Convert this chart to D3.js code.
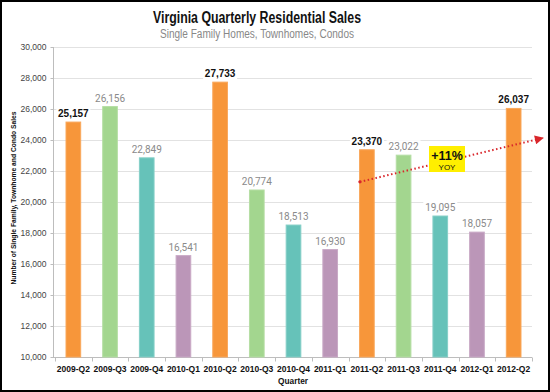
<!DOCTYPE html>
<html><head><meta charset="utf-8">
<script src="https://cdn.jsdelivr.net/npm/d3@7"></script>
<style>
html,body{margin:0;padding:0;background:#fff;}
svg{display:block;}
</style></head>
<body>
<svg id="c" width="550" height="392"></svg>
<script>
const quarters = ["2009-Q2","2009-Q3","2009-Q4","2010-Q1","2010-Q2","2010-Q3","2010-Q4","2011-Q1","2011-Q2","2011-Q3","2011-Q4","2012-Q1","2012-Q2"];
const sales = [25157,26156,22849,16541,27733,20774,18513,16930,23370,23022,19095,18057,26037];
const yTicks = [10000,12000,14000,16000,18000,20000,22000,24000,26000,28000,30000];
const quarterColors = {Q1:"#bb96b8", Q2:"#f7963a", Q3:"#a3d68f", Q4:"#66c2b9"};
const quarterStroke = {Q1:"#c9a9c6", Q2:"#f9a85c", Q3:"#b5dea4", Q4:"#85cfc7"};
const titleText = "Virginia Quarterly Residential Sales";
const subtitleText = "Single Family Homes, Townhomes, Condos";
const yTitle = "Number of Single Family, Townhome and Condo Sales";
const xTitle = "Quarter";
const trendLabel = "+11%";
const trendSub = "YOY";
const trendStartValue = 21300;

(function(){
const svg = d3.select("#c");
const W = 550, H = 392;
const pL = 55, pR = 532, pT = 47, pB = 357;
const sans = "'Liberation Sans', Arial, sans-serif";

svg.append("rect").attr("x",1).attr("y",1).attr("width",W-2).attr("height",H-2)
  .attr("fill","#fff").attr("stroke","#000").attr("stroke-width",2);

const x = d3.scaleBand().domain(quarters).range([pL, pR]).paddingInner(0.6).paddingOuter(0.3);
const y = d3.scaleLinear().domain([10000,30000]).range([pB, pT]);

// gridlines
svg.append("g").selectAll("line").data(yTicks.filter(t=>t>10000)).join("line")
  .attr("x1",53).attr("x2",pR).attr("y1",d=>Math.round(y(d))+0.5).attr("y2",d=>Math.round(y(d))+0.5)
  .attr("stroke","#e2e2e2").attr("stroke-width",1);

// y axis
const yAxis = d3.axisLeft(y).tickValues(yTicks).tickFormat(d3.format(",")).tickSize(3).tickPadding(4);
const ya = svg.append("g").attr("transform","translate(53.5,0)").call(yAxis);
ya.select(".domain").attr("stroke","#bdbdbd").attr("d",`M0,${pT}V${pB+0.5}`);
ya.selectAll(".tick line").attr("stroke","#bdbdbd");
ya.selectAll("text").attr("font-family",sans).attr("font-size",8.5).attr("fill","#444");

// x axis
const xAxis = d3.axisBottom(x).tickSize(0).tickPadding(8).tickSizeOuter(0);
const xa = svg.append("g").attr("transform",`translate(0,${pB+0.5})`).call(xAxis);
xa.select(".domain").attr("stroke","#bdbdbd").attr("d",`M53,0H${pR}`);
xa.selectAll("text").attr("font-family",sans).attr("font-size",8.5)
  .attr("fill","#111").attr("font-weight","bold");
// band boundary ticks
svg.append("g").selectAll("line").data(quarters.concat(["end"])).join("line")
  .attr("x1",(d,i)=>Math.round(pL + i*x.step())+0.5).attr("x2",(d,i)=>Math.round(pL + i*x.step())+0.5)
  .attr("y1",pB+0.5).attr("y2",pB+4.5).attr("stroke","#bdbdbd");

// bars
const q = d => d.slice(5);
svg.append("g").selectAll("rect").data(quarters).join("rect")
  .attr("x",d=>x(d)).attr("width",x.bandwidth())
  .attr("y",(d,i)=>y(sales[i])).attr("height",(d,i)=>y(10000)-y(sales[i]))
  .attr("fill",d=>quarterColors[q(d)]).attr("stroke",d=>quarterStroke[q(d)]).attr("stroke-width",1);

// value labels
const fmt = d3.format(",");
const lab = svg.append("g").selectAll("g").data(quarters).join("g")
  .attr("transform",(d,i)=>`translate(${x(d)+x.bandwidth()/2},${y(sales[i])-5})`);
lab.append("rect").attr("x",-17).attr("y",-10).attr("width",34).attr("height",12).attr("fill","#fff");
lab.append("text").attr("text-anchor","middle")
  .attr("font-family",d=>q(d)==="Q2" ? sans : "Roboto, 'Open Sans', sans-serif")
  .attr("font-size",10)
  .attr("font-weight",d=>q(d)==="Q2"?"bold":"normal")
  .attr("fill",d=>q(d)==="Q2"?"#111":"#8a8a8a")
  .text((d,i)=>fmt(sales[i]));

// trend arrow
const defs = svg.append("defs");
defs.append("marker").attr("id","ah").attr("viewBox","0 0 10 10").attr("refX",9).attr("refY",5)
  .attr("markerWidth",10).attr("markerHeight",9).attr("markerUnits","userSpaceOnUse").attr("orient","auto")
  .append("path").attr("d","M0,0L10,5L0,10z").attr("fill","#d9262b");
const x0 = x("2011-Q2")+x.bandwidth()/2, y0 = y(trendStartValue);
svg.append("line").attr("x1",x0-7).attr("y1",y0).attr("x2",543).attr("y2",138)
  .attr("stroke","#d9262b").attr("stroke-width",2).attr("stroke-dasharray","1.5,2.5")
  .attr("marker-end","url(#ah)");
svg.append("circle").attr("cx",x0-7).attr("cy",y0).attr("r",1.6).attr("fill","#d9262b");

// YOY box
const bx = svg.append("g").attr("transform","translate(429,146)");
bx.append("rect").attr("width",36).attr("height",26).attr("fill","#ffef00");
bx.append("text").attr("x",18).attr("y",14).attr("text-anchor","middle").attr("font-family",sans)
  .attr("font-weight","bold").attr("font-size",12.5).attr("fill","#111").text(trendLabel);
bx.append("text").attr("x",18).attr("y",24).attr("text-anchor","middle").attr("font-family",sans)
  .attr("font-size",8).attr("fill","#111").text(trendSub);

// titles
svg.append("text").attr("x",257).attr("y",23).attr("text-anchor","middle")
  .attr("font-family",sans).attr("textLength",208).attr("lengthAdjust","spacingAndGlyphs")
  .attr("font-weight","bold").attr("font-size",16).attr("fill","#111").text(titleText);
svg.append("text").attr("x",257).attr("y",38).attr("text-anchor","middle")
  .attr("font-family",sans).attr("textLength",194).attr("lengthAdjust","spacingAndGlyphs")
  .attr("font-size",12).attr("fill","#888").text(subtitleText);

svg.append("text").attr("transform","translate(16,198) rotate(-90)").attr("text-anchor","middle")
  .attr("font-family",sans).attr("font-weight","bold").attr("textLength",173).attr("lengthAdjust","spacingAndGlyphs")
  .attr("font-size",8).attr("fill","#111").text(yTitle);
svg.append("text").attr("x",293).attr("y",384).attr("text-anchor","middle")
  .attr("font-family",sans).attr("font-weight","bold").attr("textLength",30).attr("lengthAdjust","spacingAndGlyphs")
  .attr("font-size",9).attr("fill","#111").text(xTitle);
})();
</script>
</body></html>
